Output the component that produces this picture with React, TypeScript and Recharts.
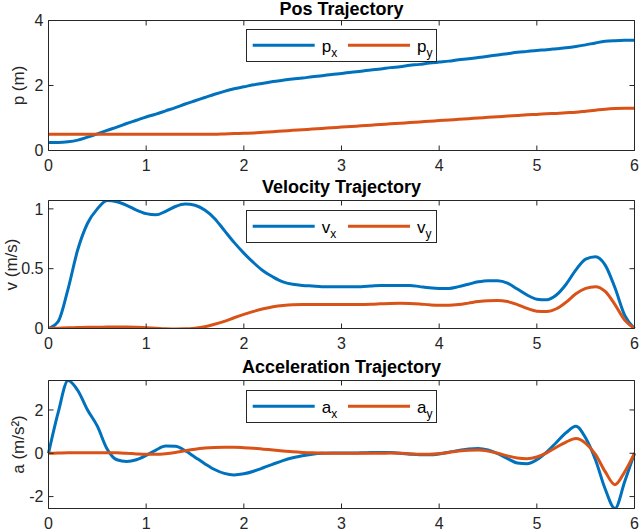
import { LineChart, Line, XAxis, YAxis, Legend } from "recharts";

const BLUE = "#0072BD";
const ORANGE = "#D95319";
const AXIS = "#262626";
const FONT = '"Liberation Sans", Arial, Helvetica, sans-serif';

// sample times (s)
const TIME = [
  0, 0.1, 0.2, 0.3, 0.4, 0.5, 0.6, 0.7, 0.8, 0.9,
  1.0, 1.1, 1.2, 1.3, 1.4, 1.5, 1.6, 1.7, 1.8, 1.9,
  2.0, 2.1, 2.2, 2.3, 2.4, 2.5, 2.6, 2.7, 2.8, 2.9,
  3.0, 3.1, 3.2, 3.3, 3.4, 3.5, 3.6, 3.7, 3.8, 3.9,
  4.0, 4.1, 4.2, 4.3, 4.4, 4.5, 4.6, 4.7, 4.8, 4.9,
  5.0, 5.1, 5.2, 5.3, 5.4, 5.5, 5.6, 5.7, 5.8, 5.9,
  6.0,
];

const PX = [
  0.25, 0.25, 0.27, 0.32, 0.41, 0.51, 0.62, 0.72, 0.83, 0.93,
  1.03, 1.12, 1.22, 1.32, 1.43, 1.53, 1.63, 1.73, 1.82, 1.9,
  1.96, 2.02, 2.07, 2.12, 2.16, 2.2, 2.23, 2.27, 2.3, 2.34,
  2.37, 2.41, 2.44, 2.48, 2.51, 2.55, 2.58, 2.62, 2.65, 2.69,
  2.72, 2.75, 2.79, 2.82, 2.86, 2.9, 2.94, 2.98, 3.02, 3.05,
  3.08, 3.1, 3.13, 3.16, 3.2, 3.25, 3.31, 3.36, 3.38, 3.39,
  3.39,
];
const PY = [
  0.5, 0.5, 0.5, 0.5, 0.5, 0.5, 0.5, 0.5, 0.5, 0.5,
  0.5, 0.5, 0.5, 0.5, 0.5, 0.5, 0.5, 0.5, 0.51, 0.52,
  0.53, 0.54, 0.56, 0.58, 0.6, 0.62, 0.64, 0.66, 0.68, 0.7,
  0.72, 0.74, 0.76, 0.78, 0.8, 0.82, 0.84, 0.86, 0.88, 0.9,
  0.92, 0.94, 0.96, 0.98, 1.0, 1.02, 1.04, 1.06, 1.08, 1.1,
  1.11, 1.13, 1.14, 1.16, 1.18, 1.21, 1.24, 1.27, 1.29, 1.3,
  1.3,
];

const VX = [
  0, 0.06, 0.33, 0.66, 0.88, 1.0, 1.07, 1.06, 1.03, 0.99,
  0.96, 0.95, 0.98, 1.02, 1.04, 1.03, 0.99, 0.92, 0.82, 0.72,
  0.63, 0.55, 0.48, 0.43, 0.39, 0.37, 0.36, 0.355, 0.35, 0.35,
  0.35, 0.35, 0.35, 0.355, 0.36, 0.36, 0.36, 0.36, 0.35, 0.34,
  0.335, 0.335, 0.35, 0.37, 0.39, 0.4, 0.4, 0.38, 0.33, 0.28,
  0.245, 0.24, 0.28, 0.37, 0.49, 0.58, 0.6, 0.53, 0.34, 0.11,
  0,
];
const VY = [
  0, 0.003, 0.006, 0.008, 0.01, 0.01, 0.012, 0.012, 0.012, 0.01,
  0.006, 0.002, -0.002, -0.004, -0.003, 0.003, 0.015, 0.035, 0.06, 0.09,
  0.118, 0.143, 0.165, 0.182, 0.193, 0.199, 0.2, 0.2, 0.2, 0.2,
  0.2, 0.2, 0.2, 0.202, 0.206, 0.21, 0.212, 0.21, 0.205, 0.198,
  0.194, 0.194, 0.2, 0.212, 0.225, 0.233, 0.235, 0.225, 0.2, 0.168,
  0.145, 0.142, 0.165, 0.22, 0.29, 0.335, 0.35, 0.31, 0.2, 0.07,
  0,
];

const AX = [
  0, 1.9, 3.36, 2.9, 2.0, 1.25, 0.2, -0.3, -0.38, -0.3,
  -0.1, 0.15, 0.33, 0.32, 0.12, -0.18, -0.48, -0.75, -0.93, -1.0,
  -0.95, -0.83, -0.67, -0.5, -0.34, -0.21, -0.11, -0.04, 0, 0.01,
  0.01, 0.01, 0.02, 0.03, 0.04, 0.03, 0, -0.04, -0.07, -0.07,
  -0.03, 0.05, 0.13, 0.2, 0.22, 0.15, -0.02, -0.25, -0.45, -0.48,
  -0.3, 0.05, 0.5, 0.95, 1.25, 0.7, -0.3, -1.65, -2.55, -1.3,
  0,
];
const AY = [
  0, 0.01, 0.02, 0.02, 0.02, 0.02, 0.02, 0.02, 0, -0.03,
  -0.05, -0.05, -0.02, 0.04, 0.12, 0.19, 0.24, 0.27, 0.28, 0.28,
  0.26, 0.23, 0.19, 0.15, 0.11, 0.07, 0.04, 0.02, 0.01, 0,
  0, 0, 0, 0, 0, 0.01, 0, -0.02, -0.04, -0.04,
  -0.01, 0.04, 0.1, 0.14, 0.15, 0.1, 0, -0.12, -0.22, -0.25,
  -0.17, 0.02, 0.28, 0.52, 0.68, 0.46, -0.05, -0.85, -1.45, -0.85,
  0,
];

const X_TICKS = [0, 1, 2, 3, 4, 5, 6];
const POS_TICKS = [0, 2, 4];
const VEL_TICKS = [0, 0.5, 1];
const ACC_TICKS = [-2, 0, 2];

const rows = (a: number[], b: number[]) => TIME.map((t, i) => ({ t, x: a[i], y: b[i] }));
const blank = () => "";

function TrajLegend(props: any) {
  const items = props.payload ?? [];
  return (
    <div
      style={{
        width: 191,
        height: 33,
        boxSizing: "border-box",
        border: `1px solid ${AXIS}`,
        background: "#fff",
      }}
    >
      <svg width={189} height={31} style={{ display: "block" }}>
        {items.map((it: any, i: number) => {
          const x0 = 5.7 + i * 95.3;
          const name = String(it.value);
          return (
            <g key={name}>
              <line x1={x0} x2={x0 + 62} y1={15.3} y2={15.3} stroke={it.color} strokeWidth={3} />
              <text x={x0 + 69} y={21.7} fontSize={17} fill="#000" fontFamily={FONT}>
                {name[0]}
                <tspan fontSize={12} dy={5}>
                  {name.slice(1)}
                </tspan>
              </text>
            </g>
          );
        })}
      </svg>
    </div>
  );
}

type PanelProps = {
  data: { t: number; x: number; y: number }[];
  sym: string;
  title: string;
  titleTop: number;
  yLabel: string;
  yLabelOffset: number;
  domain: [number, number];
  yTicks: number[];
  top: number;
  height: number;
  marginTop: number;
  marginBottom: number;
  legendTop: number;
};

function Panel(p: PanelProps) {
  const tickStyle = { fontSize: 16, fill: AXIS };
  return (
    <div style={{ position: "absolute", left: 0, top: p.top, width: 640, height: p.height }}>
      <div
        style={{
          position: "absolute",
          left: 48.5,
          width: 586,
          top: p.titleTop,
          lineHeight: "20px",
          fontSize: 18,
          fontWeight: "bold",
          textAlign: "center",
          color: "#000",
        }}
      >
        {p.title}
      </div>
      <LineChart
        width={640}
        height={p.height}
        data={p.data}
        margin={{ top: p.marginTop - 1, right: 4.5, bottom: p.marginBottom, left: 8.5 }}
      >
        <XAxis
          xAxisId="b"
          dataKey="t"
          type="number"
          domain={[0, 6]}
          ticks={X_TICKS}
          interval={0}
          height={20}
          tickSize={-5}
          tickMargin={14.5}
          tick={tickStyle}
          tickLine={{ stroke: AXIS }}
          axisLine={{ stroke: AXIS }}
        />
        <XAxis
          xAxisId="top"
          orientation="top"
          dataKey="t"
          type="number"
          domain={[0, 6]}
          ticks={X_TICKS}
          interval={0}
          height={1}
          tickSize={-5}
          tickFormatter={blank}
          tickLine={{ stroke: AXIS }}
          axisLine={{ stroke: AXIS }}
        />
        <YAxis
          yAxisId="l"
          type="number"
          domain={p.domain}
          allowDataOverflow
          ticks={p.yTicks}
          interval={0}
          width={40}
          tickSize={-5}
          tickMargin={10}
          tick={tickStyle}
          tickLine={{ stroke: AXIS }}
          axisLine={{ stroke: AXIS }}
          label={{
            value: p.yLabel,
            angle: -90,
            position: "insideLeft",
            offset: p.yLabelOffset,
            fill: AXIS,
            fontSize: 17,
            style: { textAnchor: "middle" },
          }}
        />
        <YAxis
          yAxisId="r"
          orientation="right"
          type="number"
          domain={p.domain}
          allowDataOverflow
          ticks={p.yTicks}
          interval={0}
          width={1}
          tickSize={-5}
          tickFormatter={blank}
          tickLine={{ stroke: AXIS }}
          axisLine={{ stroke: AXIS }}
        />
        <Line
          xAxisId="b"
          yAxisId="l"
          type="monotone"
          dataKey="x"
          name={p.sym + "x"}
          stroke={BLUE}
          strokeWidth={3}
          dot={false}
          isAnimationActive={false}
        />
        <Line
          xAxisId="top"
          yAxisId="r"
          type="monotone"
          dataKey="y"
          name={p.sym + "y"}
          stroke={ORANGE}
          strokeWidth={3}
          dot={false}
          isAnimationActive={false}
        />
        <Legend
          layout="horizontal"
          verticalAlign="middle"
          align="center"
          content={TrajLegend}
          wrapperStyle={{ left: 246, top: p.legendTop, width: 191, height: 33 }}
        />
      </LineChart>
    </div>
  );
}

export default function App() {
  return (
    <div
      style={{
        position: "absolute",
        left: 0,
        top: 0,
        width: 640,
        height: 532,
        background: "#fff",
        fontFamily: FONT,
      }}
    >
      <Panel
        data={rows(PX, PY)}
        sym="p"
        title="Pos Trajectory"
        titleTop={-1.5}
        yLabel="p (m)"
        yLabelOffset={9.5}
        domain={[0, 4]}
        yTicks={POS_TICKS}
        top={0}
        height={180}
        marginTop={20.5}
        marginBottom={9.5}
        legendTop={29}
      />
      <Panel
        data={rows(VX, VY)}
        sym="v"
        title="Velocity Trajectory"
        titleTop={-3.2}
        yLabel="v (m/s)"
        yLabelOffset={2}
        domain={[0, 1.07]}
        yTicks={VEL_TICKS}
        top={180}
        height={176}
        marginTop={20.5}
        marginBottom={7.5}
        legendTop={30}
      />
      <Panel
        data={rows(AX, AY)}
        sym="a"
        title="Acceleration Trajectory"
        titleTop={0.8}
        yLabel="a (m/s²)"
        yLabelOffset={9.5}
        domain={[-2.55, 3.36]}
        yTicks={ACC_TICKS}
        top={356}
        height={176}
        marginTop={24.5}
        marginBottom={3.5}
        legendTop={33.5}
      />
    </div>
  );
}
